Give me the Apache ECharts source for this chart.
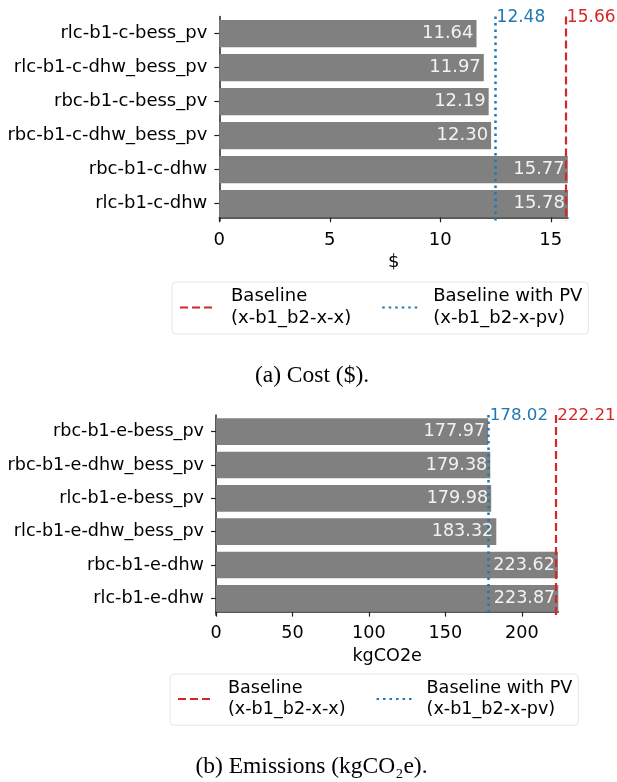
<!DOCTYPE html>
<html>
<head>
    <meta charset="utf-8">
    <script type="text/javascript" src="https://cdn.jsdelivr.net/npm/echarts@6/dist/echarts.min.js"></script>
    <title>Cost / Emissions</title>
</head>
<body style="margin:0;background:#fff;">
    <div id="container" style="width:617px;height:782px;"></div>
    <script type="text/javascript">
    // data
    var costCategories = ['rlc-b1-c-bess_pv', 'rlc-b1-c-dhw_bess_pv', 'rbc-b1-c-bess_pv',
        'rbc-b1-c-dhw_bess_pv', 'rbc-b1-c-dhw', 'rlc-b1-c-dhw'];
    var costValues = [11.64, 11.97, 12.19, 12.30, 15.77, 15.78];
    var costBaseline = 15.66;
    var costBaselinePV = 12.48;

    var emisCategories = ['rbc-b1-e-bess_pv', 'rbc-b1-e-dhw_bess_pv', 'rlc-b1-e-bess_pv',
        'rlc-b1-e-dhw_bess_pv', 'rbc-b1-e-dhw', 'rlc-b1-e-dhw'];
    var emisValues = [177.97, 179.38, 179.98, 183.32, 223.62, 223.87];
    var emisBaseline = 222.21;
    var emisBaselinePV = 178.02;

    var nameBase = 'Baseline\n(x-b1_b2-x-x)';
    var namePV = 'Baseline with PV\n(x-b1_b2-x-pv)';

    var FONT = 'DejaVu Sans';
    var RED = '#d62728';
    var BLUE = '#1f77b4';
    var SPINE = '#222';

    var myChart = echarts.init(document.getElementById('container'));

    function xAxisOf(idx, max, interval, name, fs, margin) {
        return {
            type: 'value', gridIndex: idx, min: 0, max: max, interval: interval,
            offset: -3.4,
            name: name, nameLocation: 'middle', nameGap: 36,
            nameTextStyle: { fontFamily: FONT, fontSize: fs, color: '#000' },
            axisLine: { show: true, lineStyle: { color: SPINE, width: 1.5 } },
            axisTick: { show: true, length: 5, lineStyle: { color: SPINE, width: 1.2 } },
            axisLabel: { fontFamily: FONT, fontSize: fs, color: '#000', margin: margin, showMaxLabel: false },
            splitLine: { show: false }
        };
    }

    function yAxisOf(idx, cats, fs) {
        return {
            type: 'category', gridIndex: idx, data: cats, inverse: true,
            axisLine: { show: true, lineStyle: { color: SPINE, width: 1.5 } },
            axisTick: { show: true, alignWithLabel: true, length: 5, lineStyle: { color: SPINE, width: 1.2 } },
            axisLabel: { fontFamily: FONT, fontSize: fs, color: '#000', margin: 12 }
        };
    }

    function barSeries(idx, vals, fs) {
        return {
            type: 'bar', xAxisIndex: idx, yAxisIndex: idx, data: vals,
            barCategoryGap: '20%',
            itemStyle: { color: '#808080' },
            label: {
                show: true, position: 'insideRight', distance: 3,
                fontFamily: FONT, fontSize: fs, color: '#f2f2f2',
                formatter: function (p) { return p.value.toFixed(2); }
            },
            silent: true
        };
    }

    function refLine(idx, name, value, color, type, width, fs) {
        return {
            type: 'line', name: name, xAxisIndex: idx, yAxisIndex: idx, data: [],
            symbol: 'none',
            lineStyle: { color: color, type: type, width: width },
            itemStyle: { color: color },
            markLine: {
                silent: true, symbol: 'none', animation: false,
                lineStyle: { color: color, type: type, width: width },
                label: {
                    show: true, position: 'start', distance: 0, color: color,
                    fontFamily: FONT, fontSize: fs, align: 'left', offset: [1.5, 9],
                    formatter: function () { return value.toFixed(2); }
                },
                data: [{ xAxis: value }]
            }
        };
    }

    function legendOf(top, left, gap, fs, textPad) {
        return {
            top: top, left: left,
            orient: 'horizontal',
            data: [nameBase, namePV],
            itemWidth: 36, itemHeight: 14, itemGap: gap,
            padding: [4, 6, 5, 7],
            borderColor: '#e6e6e6', borderWidth: 1, borderRadius: 4,
            backgroundColor: '#fff',
            selectedMode: false,
            itemStyle: { opacity: 0 },
            textStyle: { fontFamily: FONT, fontSize: fs, color: '#000', lineHeight: fs * 1.2, padding: [0, 0, 0, textPad] }
        };
    }

    var option = {
        animation: false,
        grid: [
            { left: 219.3, right: 49, top: 16.6, bottom: 561.3 },
            { left: 216, right: 58.7, top: 415, bottom: 167 }
        ],
        xAxis: [
            xAxisOf(0, 15.78, 5, '$', 18, 14),
            xAxisOf(1, 223.87, 50, 'kgCO2e', 17.6, 12.5)
        ],
        yAxis: [
            yAxisOf(0, costCategories, 18),
            yAxisOf(1, emisCategories, 17.6)
        ],
        legend: [legendOf(282, 172, 30, 18, 10), legendOf(674, 170, 30, 17.6, 9)],
        series: [
            barSeries(0, costValues, 18),
            refLine(0, nameBase, costBaseline, RED, [8, 4], 2.2, 17),
            refLine(0, namePV, costBaselinePV, BLUE, [2.5, 4], 2.5, 17),
            barSeries(1, emisValues, 17.6),
            refLine(1, nameBase, emisBaseline, RED, [8, 4], 2.2, 16.7),
            refLine(1, namePV, emisBaselinePV, BLUE, [2.5, 4], 2.5, 16.7)
        ],
        graphic: [
            {
                type: 'text', x: 312, y: 376,
                style: { text: '(a) Cost ($).', font: '23.5px "Liberation Serif"', fill: '#000', textAlign: 'center', textVerticalAlign: 'middle' }
            },
            {
                type: 'text', x: 311.5, y: 767,
                style: { text: '(b) Emissions (kgCO₂e).', font: '23.5px "Liberation Serif"', fill: '#000', textAlign: 'center', textVerticalAlign: 'middle' }
            }
        ]
    };

    myChart.setOption(option);
    </script>
</body>
</html>
